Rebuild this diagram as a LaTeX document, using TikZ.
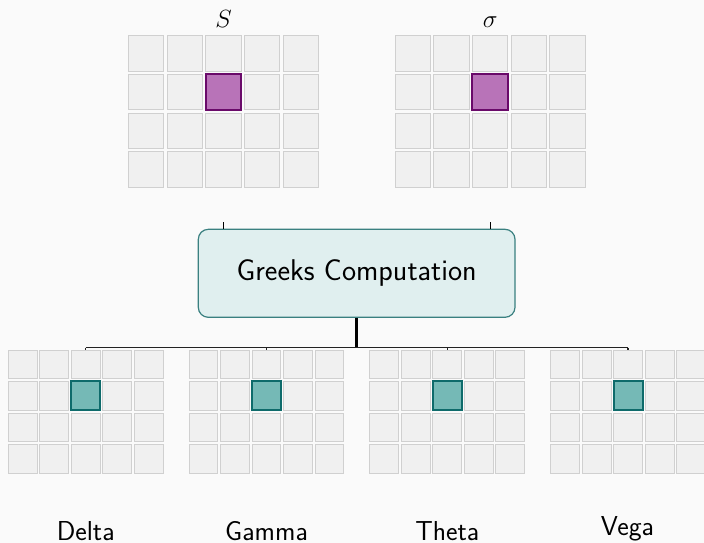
\documentclass[tikz,border=0pt]{standalone}
\usetikzlibrary{calc}
\definecolor{bg}{HTML}{FAFAFA}
\definecolor{cellfill}{HTML}{F0F0F0}
\definecolor{celldraw}{HTML}{D0D0D0}
\definecolor{purfill}{HTML}{B873B8}
\definecolor{purdraw}{HTML}{6A0A6A}
\definecolor{tealfill}{HTML}{75B9B6}
\definecolor{tealdraw}{HTML}{0E6B6B}
\definecolor{boxfill}{HTML}{E0EFEF}
\definecolor{boxdraw}{HTML}{3A8080}
\definecolor{busline}{HTML}{222222}
\tikzset{
  bigcell/.style={rectangle, draw=celldraw, fill=cellfill, line width=1pt, minimum size=35.4pt, inner sep=0pt},
  smallcell/.style={rectangle, draw=celldraw, fill=cellfill, line width=1pt, minimum size=28.8pt, inner sep=0pt},
  bighl/.style={rectangle, draw=purdraw, fill=purfill, line width=2pt, minimum size=35.6pt, inner sep=0pt},
  smallhl/.style={rectangle, draw=tealdraw, fill=tealfill, line width=2pt, minimum size=29pt, inner sep=0pt},
  mainbox/.style={rectangle, draw=boxdraw, fill=boxfill, line width=1.2pt, rounded corners=10pt,
    minimum width=316.7pt, minimum height=88pt, inner sep=0pt, font=\sffamily\fontsize{30}{35}\selectfont},
  mathlbl/.style={inner sep=0pt, anchor=base, font=\fontsize{27}{31}\selectfont},
  greeklbl/.style={inner sep=0pt, anchor=south, font=\sffamily\fontsize{27.4}{32}\selectfont},
  stub/.style={line width=1pt, black},
  busstyle/.style={line width=1.3pt, busline},
  trunk/.style={line width=2.6pt, black}
}
\begin{document}
\begin{tikzpicture}[x=1pt,y=-1pt]
\fill[bg] (0,0) rectangle (704,543);
\useasboundingbox (0,0) rectangle (704,543);

% top grids
\foreach \g/\lx in {s/128.3, v/395.0} {
  \foreach \i in {0,...,4} {
    \foreach \j in {0,...,3} {
      \node[bigcell] (\g-\i-\j) at ({\lx+17.7+38.7*\i},{35.7+17.7+38.7*\j}) {};
    }
  }
  \node[bighl] (\g-hl) at ({\lx+17.7+38.7*2},{35.7+17.7+38.7*1}) {};
}
\node[mathlbl] (lblS) at (223.5,27.5) {$S$};
\node[mathlbl] (lblSig) at (490.2,27.5) {$\sigma$};

% bottom grids
\foreach \g/\lx in {a/8.3, b/189.1, c/369.9, d/550.7} {
  \foreach \i in {0,...,4} {
    \foreach \j in {0,...,3} {
      \node[smallcell] (\g-\i-\j) at ({\lx+14.4+31.5*\i},{350+14.4+31.5*\j}) {};
    }
  }
  \node[smallhl] (\g-hl) at ({\lx+14.4+31.5*2},{350+14.4+31.5*1}) {};
}

% main box
\node[mainbox] (box) at (356.65,273.3) {Greeks Computation};

% top stubs
\coordinate (stubS) at (223.5,222);
\coordinate (stubV) at (490.2,222);
\draw[stub] (stubS) -- (stubS |- box.north);
\draw[stub] (stubV) -- (stubV |- box.north);

% bus
\coordinate (busA) at (85.7,347.5);
\coordinate (busD) at (628.1,347.5);
\draw[trunk] (box.south) -- (box.south |- busA);
\draw[busstyle] (busA) -- (busD);
\foreach \g in {a,b,c,d} {
  \draw[busstyle] (\g-2-0.north |- busA) -- (\g-2-0.north);
}

% labels
\node[greeklbl] (lDelta) at (85.7,541) {Delta};
\node[greeklbl] (lGamma) at (266.5,541) {Gamma};
\node[greeklbl] (lTheta) at (447.3,541) {Theta};
\node[greeklbl] (lVega) at (627.5,541) {Vega};
\end{tikzpicture}
\end{document}
